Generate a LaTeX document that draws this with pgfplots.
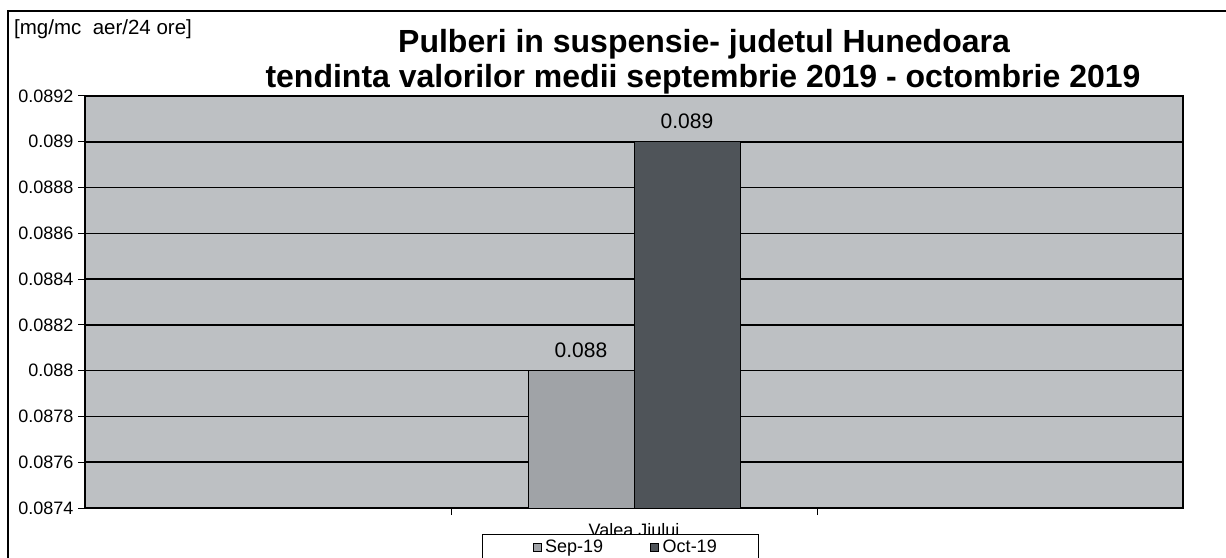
\documentclass[border=0pt]{standalone}
\usepackage{fontspec}
\setmainfont{Liberation Sans}
\usepackage{pgfplots}
\pgfplotsset{compat=1.18}
\definecolor{plotbg}{RGB}{189,192,195}
\definecolor{sepc}{RGB}{160,163,167}
\definecolor{octc}{RGB}{79,84,89}
\newcommand\tf{\fontsize{18}{21}\selectfont}
\newcommand\legfont{\fontsize{18}{21}\selectfont}
\newcommand\labfont{\fontsize{21}{24}\selectfont}
\newcommand\unitfont{\fontsize{20.5}{24}\selectfont}
\newcommand\titlefont{\fontsize{32}{38}\selectfont\bfseries}
\begin{document}
\begin{tikzpicture}[x=1pt,y=1pt]
\useasboundingbox (0,0) rectangle (1226,557);
\clip (0,0) rectangle (1226,557);
\draw[line width=1.5pt] (8,-20) -- (8,546) -- (1240,546);
\node[anchor=base west, font=\unitfont, inner sep=0pt] at (14,522) {[mg/mc\ \ aer/24 ore]};
\node[anchor=base, font=\titlefont, inner sep=0pt] at (704,504) {Pulberi in suspensie- judetul Hunedoara};
\node[anchor=base, font=\titlefont, inner sep=0pt] at (703,469) {tendinta valorilor medii septembrie 2019 - octombrie 2019};
\begin{axis}[
  at={(85pt,49pt)}, anchor=south west,
  scale only axis, width=1098pt, height=412pt,
  xmin=-0.5, xmax=2.5, ymin=0.0874, ymax=0.0892,
  scaled y ticks=false,
  axis background/.style={fill=plotbg},
  ybar=0pt, bar width=106pt,
  xtick={0.5,1.5}, xticklabels={},
  extra x ticks={1}, extra x tick labels={{\fontsize{18}{21}\selectfont Valea Jiului}},
  extra x tick style={major tick length=0pt, xticklabel style={yshift=-12pt}},
  ytick={0.0874,0.0876,0.0878,0.088,0.0882,0.0884,0.0886,0.0888,0.089,0.0892},
  yticklabels={{\tf 0.0874},{\tf 0.0876},{\tf 0.0878},{\tf 0.088},{\tf 0.0882},{\tf 0.0884},{\tf 0.0886},{\tf 0.0888},{\tf 0.089},{\tf 0.0892}},
  xtick pos=bottom, ytick pos=left,
  tick align=outside, major tick length=7pt,
  tick style={black, line width=1pt},
  ymajorgrids, grid style={black, line width=1.5pt},
  axis line style={black, line width=1.2pt},
  yticklabel style={xshift=-1pt},
  point meta=explicit symbolic,
  nodes near coords,
  nodes near coords style={anchor=base, yshift=13pt, font=\labfont, text=black},
  legend image code/.code={\draw[#1,draw=black,line width=0.6pt] (0pt,-4pt) rectangle (8pt,4pt);},
  legend columns=2,
  legend style={at={(rel axis cs:0.3616,-0.062)}, anchor=north west, draw=black, line width=1pt,
    fill=white, inner xsep=50pt, inner ysep=4pt,
    /tikz/every even column/.append style={column sep=0pt}},
]
\addplot[fill=sepc, draw=black, line width=0.8pt] coordinates {(1,0.088) [0.088]};
\addlegendentry{\hspace{2pt}\makebox[103pt][l]{\legfont Sep-19}}
\addplot[fill=octc, draw=black, line width=0.8pt] coordinates {(1,0.089) [0.089]};
\addlegendentry{\hspace{2pt}\makebox[44pt][l]{\legfont Oct-19}}
\end{axis}
\end{tikzpicture}
\end{document}
